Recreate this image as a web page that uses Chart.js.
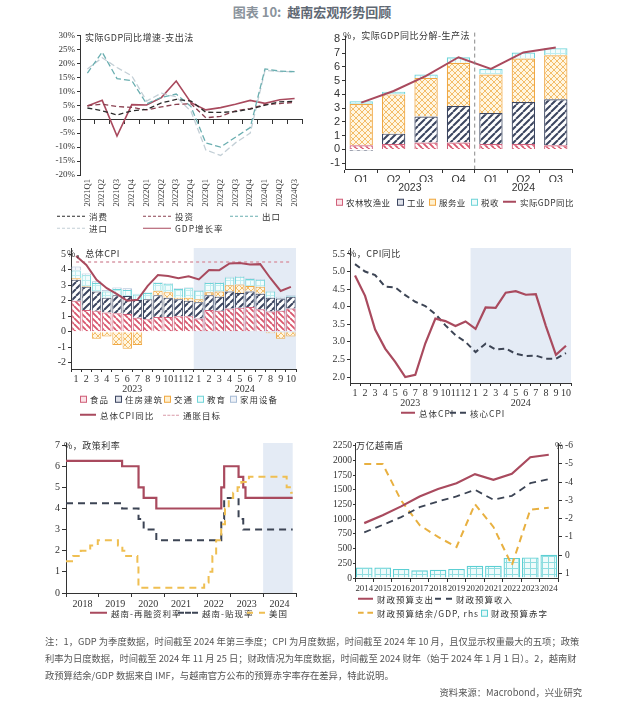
<!DOCTYPE html>
<html>
<head>
<meta charset="utf-8">
<script src="https://cdn.jsdelivr.net/npm/chart.js@4.4.1/dist/chart.umd.min.js"></script>
<style>
body{margin:0;width:624px;height:703px;background:#fff;position:relative;overflow:hidden;font-family:"Noto Sans CJK SC",sans-serif}
.box{position:absolute}
.t{position:absolute;font-size:9px;color:#333;white-space:nowrap;letter-spacing:.5px;line-height:1}
.lg{position:absolute;font-size:8.5px;color:#333;white-space:nowrap;letter-spacing:1px;line-height:1;display:flex;align-items:center;transform:translateY(-50%)}
.ln{display:inline-block;width:18px;height:0;margin-right:4px}
.sq{display:inline-block;width:5px;height:5px;margin-right:3px;border:1.5px solid}
#title{position:absolute;left:0;width:624px;top:2px;text-align:center;font-size:13px;font-weight:bold;color:#5f6873}
#title span{color:#8a939c}
#note{position:absolute;left:45px;top:633px;font-size:9.3px;line-height:17px;color:#555;white-space:nowrap}
#src{position:absolute;right:42px;top:685px;font-size:9.3px;color:#555}
</style>
</head>
<body>
<div id="title"><span>图表 10:</span>&nbsp;&nbsp;越南宏观形势回顾</div>

<div class="box" style="left:20px;top:28px;width:300px;height:190px"><canvas id="c1"></canvas></div>
<div class="box" style="left:320px;top:28px;width:300px;height:175px"><canvas id="c2"></canvas></div>
<div class="box" style="left:20px;top:240px;width:300px;height:165px"><canvas id="c3"></canvas></div>
<div class="box" style="left:320px;top:240px;width:300px;height:175px"><canvas id="c4"></canvas></div>
<div class="box" style="left:20px;top:430px;width:300px;height:180px"><canvas id="c5"></canvas></div>
<div class="box" style="left:320px;top:430px;width:300px;height:185px"><canvas id="c6"></canvas></div>

<!-- 图内标题 -->
<div class="t" style="left:85px;top:33px">实际GDP同比增速-支出法</div>
<div class="t" style="left:343px;top:31px">%，实际GDP同比分解-生产法</div>
<div class="t" style="left:67px;top:249px">%，总体CPI</div>
<div class="t" style="left:348px;top:249px">%，CPI同比</div>
<div class="t" style="left:64px;top:441px">%，政策利率</div>
<div class="t" style="left:356px;top:441px">万亿越南盾</div>
<div class="t" style="left:555px;top:441px">%</div>

<!-- 图例 -->
<div class="lg" style="left:57px;top:216px"><i class="ln" style="width:28px;border-top:1.5px dashed #2b2b2b"></i>消费</div>
<div class="lg" style="left:143px;top:216px"><i class="ln" style="width:28px;border-top:1.5px dashed #8a4050"></i>投资</div>
<div class="lg" style="left:230px;top:216px"><i class="ln" style="width:28px;border-top:1.5px dashed #6aaeb0"></i>出口</div>
<div class="lg" style="left:57px;top:228px"><i class="ln" style="width:28px;border-top:1.5px dashed #c3cfd6"></i>进口</div>
<div class="lg" style="left:143px;top:228px"><i class="ln" style="width:28px;border-top:1.5px solid #a94a5e"></i>GDP增长率</div>

<div class="lg" style="left:336px;top:202px;letter-spacing:.4px"><i class="sq" style="border-color:#d0607a;background:#fbe3e8"></i>农林牧渔业</div>
<div class="lg" style="left:397px;top:202px;letter-spacing:.4px"><i class="sq" style="border-color:#3c4660;background:#dfe2ea"></i>工业</div>
<div class="lg" style="left:429px;top:202px;letter-spacing:.4px"><i class="sq" style="border-color:#f0a843;background:#fff0cf"></i>服务业</div>
<div class="lg" style="left:471px;top:202px;letter-spacing:.4px"><i class="sq" style="border-color:#6fd4d8;background:#eefbfb"></i>税收</div>
<div class="lg" style="left:503px;top:202px;letter-spacing:.4px"><i class="ln" style="width:13px;border-top:2px solid #a94a5e"></i>实际GDP同比</div>

<div class="lg" style="left:80px;top:399px"><i class="sq" style="border-color:#d0607a;background:#fbe3e8"></i>食品</div>
<div class="lg" style="left:115px;top:399px"><i class="sq" style="border-color:#3c4660;background:#dfe2ea"></i>住房建筑</div>
<div class="lg" style="left:164px;top:399px"><i class="sq" style="border-color:#f0a843;background:#fff0cf"></i>交通</div>
<div class="lg" style="left:197px;top:399px"><i class="sq" style="border-color:#6fd4d8;background:#eefbfb"></i>教育</div>
<div class="lg" style="left:230px;top:399px"><i class="sq" style="border-color:#a9bdd6;background:#eef2f8"></i>家用设备</div>
<div class="lg" style="left:80px;top:415px"><i class="ln" style="width:16px;border-top:2px solid #a94a5e"></i>总体CPI同比</div>
<div class="lg" style="left:163px;top:415px"><i class="ln" style="width:16px;border-top:1.5px dashed #d99aa8"></i>通胀目标</div>

<div class="lg" style="left:401px;top:413px"><i class="ln" style="width:14px;border-top:2px solid #a94a5e"></i>总体CPI</div>
<div class="lg" style="left:450px;top:413px"><i class="ln" style="width:16px;border-top:2px dashed #3c4454"></i>核心CPI</div>

<div class="lg" style="left:90px;top:613px"><i class="ln" style="width:17px;border-top:2px solid #a94a5e"></i>越南-再融资利率</div>
<div class="lg" style="left:178px;top:613px"><i class="ln" style="width:20px;border-top:2px dashed #3c4454"></i>越南-贴现率</div>
<div class="lg" style="left:247px;top:613px"><i class="ln" style="width:18px;border-top:2px dashed #efbf52"></i>美国</div>

<div class="lg" style="left:358px;top:599px"><i class="ln" style="width:15px;border-top:2px solid #a94a5e"></i>财政预算支出</div>
<div class="lg" style="left:435px;top:599px"><i class="ln" style="width:17px;border-top:2px dashed #3c4454"></i>财政预算收入</div>
<div class="lg" style="left:358px;top:613px"><i class="ln" style="width:15px;border-top:2px dashed #e8b040"></i>财政预算结余/GDP, rhs</div>
<div class="lg" style="left:481px;top:613px"><i class="sq" style="border-color:#5ccfd3;background:#e6f8f9"></i>财政预算赤字</div>

<div id="note">注：1，GDP 为季度数据，时间截至 2024 年第三季度；CPI 为月度数据，时间截至 2024 年 10 月，且仅显示权重最大的五项；政策<br>利率为日度数据，时间截至 2024 年 11 月 25 日；财政情况为年度数据，时间截至 2024 财年（始于 2024 年 1 月 1 日）。2，越南财<br>政预算结余/GDP 数据来自 IMF，与越南官方公布的预算赤字率存在差异，特此说明。</div>
<div id="src">资料来源：Macrobond，兴业研究</div>

<script>
// ======================================
// 数据
// ======================================
// 图1 实际GDP同比增速-支出法 (%)
const gdpQuarters = ['2021Q1','2021Q2','2021Q3','2021Q4','2022Q1','2022Q2','2022Q3','2022Q4',
                     '2023Q1','2023Q2','2023Q3','2023Q4','2024Q1','2024Q2','2024Q3'];
const consumption = [4.0, 3.0, 1.5, 3.0, 3.5, 5.8, 7.1, 6.5, 2.5, 2.4, 2.7, 3.6, 5.0, 6.2, 6.4];
const investment  = [4.8, 5.4, 4.5, 4.2, 3.3, 4.4, 5.3, 5.5, 0.5, 1.0, 3.0, 3.8, 5.2, 5.6, 6.0];
const exportsG    = [16.5, 24.0, 14.5, 13.8, 5.5, 7.8, 9.0, 4.5, -8.5, -10.0, -6.5, -3.0, 18.0, 17.2, 17.0];
const importsG    = [18.0, 22.0, 18.5, 15.5, 6.5, 9.3, 8.0, 2.8, -11.0, -13.0, -8.5, -5.0, 17.5, 17.0, 17.0];
const gdpGrowth   = [4.72, 6.73, -6.02, 5.22, 5.05, 7.72, 13.67, 5.92, 3.32, 4.14, 5.33, 6.72, 5.66, 6.93, 7.40];

// 图2 实际GDP同比分解-生产法 (%)
const prodQuarters = ['Q1','Q2','Q3','Q4','Q1','Q2','Q3'];
const prodYears = ['2023','2024'];
const prodQuartersPerYear = [4, 3];
const agriculture = [0.3, 0.4, 0.5, 0.5, 0.4, 0.4, 0.3];
const industry    = [-0.1, 0.75, 1.9, 2.65, 2.25, 3.05, 3.35];
const services    = [3.0, 2.85, 2.8, 3.15, 2.8, 3.15, 3.2];
const taxes       = [0.2, 0.2, 0.25, 0.4, 0.4, 0.45, 0.5];
const gdpYoY      = [3.4, 4.25, 5.35, 6.7, 5.85, 7.05, 7.4];

// 图3/图4 CPI (%)
const cpiMonths = ['1','2','3','4','5','6','7','8','9','10','11','12','1','2','3','4','5','6','7','8','9','10'];
const cpiYears = ['2023','2024'];
const cpiMonthsPerYear = [12, 10];
const cpiFood      = [2.0, 1.4, 1.35, 1.25, 1.2, 1.15, 0.9, 0.8, 0.95, 0.95, 1.0, 1.0, 0.85, 1.4, 1.35, 1.5, 1.55, 1.6, 1.45, 1.3, 1.35, 1.5];
const cpiHousing   = [1.35, 1.5, 1.25, 0.95, 1.15, 1.15, 1.15, 1.3, 1.4, 1.25, 1.1, 1.0, 1.05, 0.95, 0.9, 1.1, 0.95, 1.0, 1.0, 0.9, 0.8, 0.75];
const cpiTransport = [0.1, 0.05, -0.45, -0.3, -0.85, -1.1, -0.85, -0.05, 0.3, 0.35, 0.1, 0.2, 0.2, 0.2, 0.35, 0.4, 0.55, 0.35, 0.45, -0.1, -0.45, -0.3];
const cpiEducation = [0.5, 0.7, 0.55, 0.4, 0.4, 0.4, 0.35, 0.4, 0.5, 0.55, 0.55, 0.6, 0.55, 0.6, 0.55, 0.5, 0.5, 0.45, 0.45, 0.4, 0.05, 0.05];
const cpiHousehold = [0.25, 0.1, 0.1, 0.1, 0.1, 0.1, 0.05, 0.05, 0.05, 0.05, 0.05, 0.05, 0.05, 0.05, 0.05, 0.05, 0.05, 0.05, 0.05, 0.05, 0.05, 0.05];
const cpiHeadline  = [4.89, 4.31, 3.35, 2.81, 2.43, 2.00, 2.06, 2.96, 3.66, 3.59, 3.45, 3.58, 3.37, 3.98, 3.97, 4.40, 4.44, 4.34, 4.36, 3.45, 2.63, 2.89];
const cpiCore      = [5.21, 5.00, 4.90, 4.57, 4.55, 4.33, 4.14, 4.02, 3.79, 3.47, 3.19, 3.00, 2.71, 2.95, 2.78, 2.81, 2.66, 2.60, 2.61, 2.52, 2.52, 2.68];
const inflationTarget = 4.5;

// 图5 政策利率 (%)
const rateYears = ['2018','2019','2020','2021','2022','2023','2024'];
const vnRateDates = ['2018-01-01','2019-09-16','2020-03-17','2020-05-13','2020-10-01','2022-09-23',
                     '2022-10-25','2023-04-03','2023-05-25','2023-06-19','2024-11-25'];
const vnRefinancing = [6.25, 6.0, 5.0, 4.5, 4.0, 5.0, 6.0, 5.5, 5.0, 4.5, 4.5];
const vnDiscount    = [4.25, 4.0, 3.5, 3.0, 2.5, 3.5, 4.5, 3.5, 3.0, 3.0, 3.0];
const usRateDates = ['2018-01-01','2018-03-22','2018-06-14','2018-09-27','2018-12-20','2019-08-01','2019-09-19',
                     '2019-10-31','2020-03-04','2020-03-16','2022-03-17','2022-05-05','2022-06-16','2022-07-28',
                     '2022-09-22','2022-11-03','2022-12-15','2023-02-02','2023-03-23','2023-05-04','2023-07-27',
                     '2024-09-19','2024-11-08','2024-11-25'];
const usFedRate = [1.5, 1.75, 2.0, 2.25, 2.5, 2.25, 2.0, 1.75, 1.25, 0.25, 0.5, 1.0, 1.75, 2.5,
                   3.25, 4.0, 4.5, 4.75, 5.0, 5.25, 5.5, 5.0, 4.75, 4.75];

// 图6 财政 (万亿越南盾, %)
const fiscalYears = ['2014','2015','2016','2017','2018','2019','2020','2021','2022','2023','2024'];
const expenditure = [935, 1070, 1220, 1390, 1515, 1615, 1770, 1672, 1775, 2058, 2100];
const revenue     = [777, 905, 1037, 1207, 1305, 1390, 1503, 1333, 1400, 1615, 1685];
const balanceGdp  = [-5.0, -5.0, -3.0, -1.65, -1.0, -0.45, -2.8, -1.55, 0.55, -2.5, -2.6];
const deficit     = [180, 178, 155, 130, 142, 155, 210, 210, 340, 350, 395];

// ======================================
// 通用设置
// ======================================
Chart.defaults.font.family = '"Liberation Serif", serif';
Chart.defaults.font.size = 10;
Chart.defaults.color = '#333';
Chart.defaults.animation = false;
Chart.defaults.responsive = true;
Chart.defaults.maintainAspectRatio = false;
Chart.defaults.plugins.legend.display = false;
Chart.defaults.plugins.tooltip.enabled = false;
Chart.defaults.elements.point.radius = 0;
Chart.defaults.elements.line.tension = 0;

const AX = '#333';
const RED = '#a94a5e';
const DARK = '#3c4454';

const fixW = w => s => { s.width = w; };
const fixH = h => s => { s.height = h; };
// 只保留整步长的刻度 (轴的上下限不是整数)
const stepTicks = step => s => {
    const out = [];
    for (let k = Math.ceil(s.min / step - 1e-9); k * step <= s.max + 1e-9; k++) {
        out.push({ value: Math.round(k * step * 1000) / 1000 });
    }
    s.ticks = out;
};

// 分组标签的中心位置 (年份)
function groupCenters(counts) {
    const out = [];
    let start = 0;
    counts.forEach(c => { out.push(start + (c - 1) / 2); start += c; });
    return out;
}
function toYear(s) {
    const d = new Date(s + 'T00:00:00Z');
    const y = d.getUTCFullYear();
    const a = Date.UTC(y, 0, 1), b = Date.UTC(y + 1, 0, 1);
    return y + (d.getTime() - a) / (b - a);
}

// 填充花纹
function pattern(kind, fg, bg, size, lw) {
    const c = document.createElement('canvas');
    c.width = c.height = size;
    const g = c.getContext('2d');
    g.fillStyle = bg;
    g.fillRect(0, 0, size, size);
    g.strokeStyle = fg;
    g.lineWidth = lw;
    g.beginPath();
    for (const k of [-size, 0, size]) {
        if (kind === 'back' || kind === 'cross') { g.moveTo(k, 0); g.lineTo(k + size, size); }
        if (kind === 'fwd' || kind === 'cross') { g.moveTo(k, size); g.lineTo(k + size, 0); }
    }
    if (kind === 'grid') { g.moveTo(0, 0.5); g.lineTo(size, 0.5); g.moveTo(0.5, 0); g.lineTo(0.5, size); }
    g.stroke();
    return g.createPattern(c, 'repeat');
}
const patRed = pattern('back', '#d9566d', '#ffffff', 6, 1.8);
const patDark = pattern('fwd', '#3c4660', '#ffffff', 7, 2);
const patOrange = pattern('cross', '#f3bd6a', '#fff6e2', 6, 1);
const patCyan = pattern('grid', '#bfeef0', '#f4fdfd', 5, 1);
const patBlue = pattern('grid', '#d3deec', '#f5f8fc', 5, 1);
const patFiscal = pattern('grid', '#8fdde0', '#effbfb', 6, 1);

// 背景阴影 / 竖线
Chart.register({
    id: 'shade',
    beforeDraw(chart, args, opts) {
        if (opts.from == null) return;
        const xs = chart.scales[opts.axis];
        const a = chart.chartArea;
        const x0 = xs.getPixelForValue(opts.from);
        const x1 = opts.to == null ? a.right : xs.getPixelForValue(opts.to);
        const ctx = chart.ctx;
        ctx.save();
        ctx.fillStyle = opts.color || '#e4ebf5';
        ctx.fillRect(x0, a.top, x1 - x0, a.bottom - a.top);
        ctx.restore();
    }
});
Chart.register({
    id: 'vline',
    afterDatasetsDraw(chart, args, opts) {
        if (opts.value == null) return;
        const x = chart.scales[opts.axis].getPixelForValue(opts.value);
        const a = chart.chartArea;
        const ctx = chart.ctx;
        ctx.save();
        ctx.strokeStyle = '#888';
        ctx.lineWidth = 1;
        ctx.setLineDash([4, 3]);
        ctx.beginPath();
        ctx.moveTo(x, a.top - 4);
        ctx.lineTo(x, a.bottom);
        ctx.stroke();
        ctx.restore();
    }
});

// 只显示文字的年份轴
const labelAxis = extra => Object.assign({
    type: 'linear', position: 'bottom', weight: 1,
    grid: { display: false, drawTicks: false }, border: { display: false }
}, extra);

// ======================================
// 图1
// ======================================
new Chart('c1', {
    type: 'line',
    data: {
        labels: gdpQuarters,
        datasets: [
            { data: consumption, borderColor: '#2b2b2b', borderWidth: 1.3, borderDash: [5, 3] },
            { data: investment, borderColor: '#8a4050', borderWidth: 1.3, borderDash: [5, 3] },
            { data: exportsG, borderColor: '#6aaeb0', borderWidth: 1.3, borderDash: [6, 3] },
            { data: importsG, borderColor: '#c3cfd6', borderWidth: 1.3, borderDash: [6, 3] },
            { data: gdpGrowth, borderColor: RED, borderWidth: 1.6 }
        ]
    },
    options: {
        layout: { padding: { left: 0, right: 18, top: 7, bottom: 3 } },
        scales: {
            x: { offset: true, grid: { display: false, drawTicks: false }, border: { display: false },
                 ticks: { minRotation: 90, maxRotation: 90, autoSkip: false, font: { size: 8.5 }, padding: 4 },
                 afterFit: fixH(40) },
            x0: { type: 'category', position: { y: 0 }, offset: true,
                  grid: { offset: true, drawOnChartArea: false, tickLength: 4, color: AX },
                  border: { color: AX }, ticks: { display: false } },
            y: { min: -20, max: 30, ticks: { stepSize: 5, autoSkip: false, callback: v => v + '%', font: { size: 9 }, padding: 2 },
                 afterBuildTicks: stepTicks(5),
                 grid: { drawOnChartArea: false, tickLength: 3, color: AX }, border: { color: AX },
                 afterFit: fixW(60) }
        }
    }
});

// ======================================
// 图2
// ======================================
const prodYearCenters = groupCenters(prodQuartersPerYear);
const sans = { family: '"Liberation Sans", sans-serif', size: 10.5 };
new Chart('c2', {
    data: {
        labels: prodQuarters,
        datasets: [
            { type: 'bar', data: agriculture, backgroundColor: patRed, borderColor: '#d0607a', borderWidth: 1.2, stack: 's', order: 1, xAxisID: 'x' },
            { type: 'bar', data: industry, backgroundColor: patDark, borderColor: '#3c4660', borderWidth: 1.2, stack: 's', order: 1, xAxisID: 'x' },
            { type: 'bar', data: services, backgroundColor: patOrange, borderColor: '#f0a843', borderWidth: 1.2, stack: 's', order: 1, xAxisID: 'x' },
            { type: 'bar', data: taxes, backgroundColor: patCyan, borderColor: '#6fd4d8', borderWidth: 1.2, stack: 's', order: 1, xAxisID: 'x' },
            { type: 'line', data: gdpYoY, borderColor: RED, borderWidth: 2, stack: 'g', order: 0, xAxisID: 'x' }
        ]
    },
    options: {
        layout: { padding: { left: 0, right: 48, top: 4, bottom: 9 } },
        datasets: { bar: { barPercentage: 0.72, categoryPercentage: 1 } },
        plugins: { vline: { axis: 'xy', value: 3.5 } },
        scales: {
            x: { stacked: true, offset: true, weight: 0,
                 grid: { offset: true, drawOnChartArea: false, tickLength: 4, color: AX }, border: { color: AX },
                 ticks: { font: sans, padding: 1 }, afterFit: fixH(13) },
            xy: labelAxis({ min: -0.5, max: prodQuarters.length - 0.5,
                  afterBuildTicks: s => { s.ticks = prodYearCenters.map(v => ({ value: v })); },
                  ticks: { callback: (v, i) => prodYears[i], font: sans, padding: 0 }, afterFit: fixH(12) }),
            y: { stacked: true, min: -1.42, max: 8.2, ticks: { autoSkip: false, padding: 2, font: { family: sans.family, size: 11 } },
                 afterBuildTicks: stepTicks(1),
                 grid: { drawOnChartArea: false, tickLength: 3, color: AX }, border: { color: AX },
                 afterFit: fixW(25) }
        }
    }
});

// ======================================
// 图3
// ======================================
const cpiYearCenters = groupCenters(cpiMonthsPerYear);
const cpiShadeFrom = cpiMonthsPerYear[0] - 0.5;
const cpiXScales = {
    x: { stacked: true, offset: true, weight: 0,
         grid: { offset: true, drawOnChartArea: false, tickLength: 3, color: AX }, border: { color: AX },
         ticks: { autoSkip: false, maxRotation: 0, font: { size: 10 }, padding: 1 }, afterFit: fixH(14) },
    xy: labelAxis({ min: -0.5, max: cpiMonths.length - 0.5,
          afterBuildTicks: s => { s.ticks = cpiYearCenters.map(v => ({ value: v })); },
          ticks: { callback: (v, i) => cpiYears[i], font: { size: 10 }, padding: 0 }, afterFit: fixH(12) })
};
new Chart('c3', {
    data: {
        labels: cpiMonths,
        datasets: [
            { type: 'bar', data: cpiFood, backgroundColor: patRed, borderColor: '#d0607a', borderWidth: 1, stack: 's', order: 1, xAxisID: 'x' },
            { type: 'bar', data: cpiHousing, backgroundColor: patDark, borderColor: '#3c4660', borderWidth: 1, stack: 's', order: 1, xAxisID: 'x' },
            { type: 'bar', data: cpiTransport, backgroundColor: patOrange, borderColor: '#f0a843', borderWidth: 1, stack: 's', order: 1, xAxisID: 'x' },
            { type: 'bar', data: cpiEducation, backgroundColor: patCyan, borderColor: '#6fd4d8', borderWidth: 1, stack: 's', order: 1, xAxisID: 'x' },
            { type: 'bar', data: cpiHousehold, backgroundColor: patBlue, borderColor: '#a9bdd6', borderWidth: 1, stack: 's', order: 1, xAxisID: 'x' },
            { type: 'line', data: cpiHeadline, borderColor: RED, borderWidth: 2, stack: 'h', order: 0, xAxisID: 'x' },
            { type: 'line', data: cpiMonths.map(() => inflationTarget), borderColor: '#d99aa8', borderWidth: 1.5, borderDash: [3, 3], stack: 't', order: 0, xAxisID: 'x' }
        ]
    },
    options: {
        layout: { padding: { left: 0, right: 24, top: 8, bottom: 10 } },
        datasets: { bar: { barPercentage: 0.92, categoryPercentage: 1 } },
        plugins: { shade: { axis: 'xy', from: cpiShadeFrom } },
        scales: {
            ...cpiXScales,
            y: { stacked: true, min: -2.4, max: 5.4, ticks: { autoSkip: false, padding: 2 },
                 afterBuildTicks: stepTicks(1),
                 grid: { drawOnChartArea: false, tickLength: 3, color: AX }, border: { color: AX },
                 afterFit: fixW(51) }
        }
    }
});

// ======================================
// 图4
// ======================================
new Chart('c4', {
    type: 'line',
    data: {
        labels: cpiMonths,
        datasets: [
            { data: cpiHeadline, borderColor: RED, borderWidth: 2.2, xAxisID: 'x' },
            { data: cpiCore, borderColor: DARK, borderWidth: 2, borderDash: [6, 4], xAxisID: 'x' }
        ]
    },
    options: {
        layout: { padding: { left: 0, right: 49, top: 8, bottom: 6 } },
        plugins: { shade: { axis: 'xy', from: cpiShadeFrom } },
        scales: {
            ...cpiXScales,
            y: { min: 1.83, max: 5.67, ticks: { autoSkip: false, padding: 2, callback: v => v.toFixed(1) },
                 afterBuildTicks: stepTicks(0.5),
                 grid: { drawOnChartArea: false, tickLength: 3, color: AX }, border: { color: AX },
                 afterFit: fixW(30) }
        }
    }
});

// ======================================
// 图5
// ======================================
const toPoints = (dates, vals) => dates.map((d, i) => ({ x: toYear(d), y: vals[i] }));
const rateStart = +rateYears[0];
const rateEnd = +rateYears[rateYears.length - 1] + 1;
new Chart('c5', {
    type: 'line',
    data: {
        datasets: [
            { data: toPoints(usRateDates, usFedRate), borderColor: '#efbf52', borderWidth: 2, borderDash: [7, 5], stepped: true, xAxisID: 'x' },
            { data: toPoints(vnRateDates, vnDiscount), borderColor: DARK, borderWidth: 2, borderDash: [7, 5], stepped: true, xAxisID: 'x' },
            { data: toPoints(vnRateDates, vnRefinancing), borderColor: RED, borderWidth: 2.2, stepped: true, xAxisID: 'x' }
        ]
    },
    options: {
        layout: { padding: { left: 0, right: 24, top: 13, bottom: 0 } },
        plugins: { shade: { axis: 'x', from: +rateYears[rateYears.length - 1], to: toYear(vnRateDates[vnRateDates.length - 1]) } },
        scales: {
            x: { type: 'linear', min: rateStart, max: rateEnd, weight: 0,
                 ticks: { stepSize: 1, display: false },
                 grid: { drawOnChartArea: false, tickLength: 4, color: AX }, border: { color: AX },
                 afterFit: fixH(4) },
            xl: labelAxis({ min: rateStart, max: rateEnd,
                  afterBuildTicks: s => { s.ticks = rateYears.map(y => ({ value: +y + 0.5 })); },
                  ticks: { callback: (v, i) => rateYears[i], padding: 1 }, afterFit: fixH(13) }),
            y: { min: 0, max: 7.1, ticks: { autoSkip: false, padding: 2 },
                 afterBuildTicks: stepTicks(1),
                 grid: { drawOnChartArea: false, tickLength: 4, color: AX }, border: { color: AX },
                 afterFit: fixW(46) }
        }
    }
});

// ======================================
// 图6
// ======================================
new Chart('c6', {
    data: {
        labels: fiscalYears,
        datasets: [
            { type: 'line', data: expenditure, borderColor: RED, borderWidth: 2.2, yAxisID: 'y', order: 0 },
            { type: 'line', data: revenue, borderColor: DARK, borderWidth: 1.8, borderDash: [7, 5], yAxisID: 'y', order: 0 },
            { type: 'line', data: balanceGdp, borderColor: '#e8b040', borderWidth: 2, borderDash: [7, 5], yAxisID: 'y2', order: 0 },
            { type: 'bar', data: deficit, backgroundColor: patFiscal, borderColor: '#5ccfd3', borderWidth: 1.3, yAxisID: 'y', order: 1,
              barPercentage: 0.9, categoryPercentage: 1 }
        ]
    },
    options: {
        layout: { padding: { left: 0, right: 40, top: 13, bottom: 23 } },
        scales: {
            x: { offset: true, grid: { offset: true, drawOnChartArea: false, tickLength: 4, color: AX }, border: { color: AX },
                 ticks: { autoSkip: false, maxRotation: 0, font: { size: 8.8 }, padding: 1 }, afterFit: fixH(14) },
            y: { min: 0, max: 2300, ticks: { autoSkip: false, padding: 1, font: { size: 9.5 }, callback: v => String(v) },
                 afterBuildTicks: stepTicks(250),
                 grid: { drawOnChartArea: false, tickLength: 2, color: AX }, border: { color: AX },
                 afterFit: fixW(35) },
            y2: { position: 'right', reverse: true, min: -6.15, max: 1.25, ticks: { autoSkip: false, padding: 3, font: { size: 9.5 } },
                  afterBuildTicks: stepTicks(1),
                  grid: { drawOnChartArea: false, tickLength: 4, color: AX }, border: { color: AX },
                  afterFit: fixW(22) }
        }
    }
});
</script>
</body>
</html>
